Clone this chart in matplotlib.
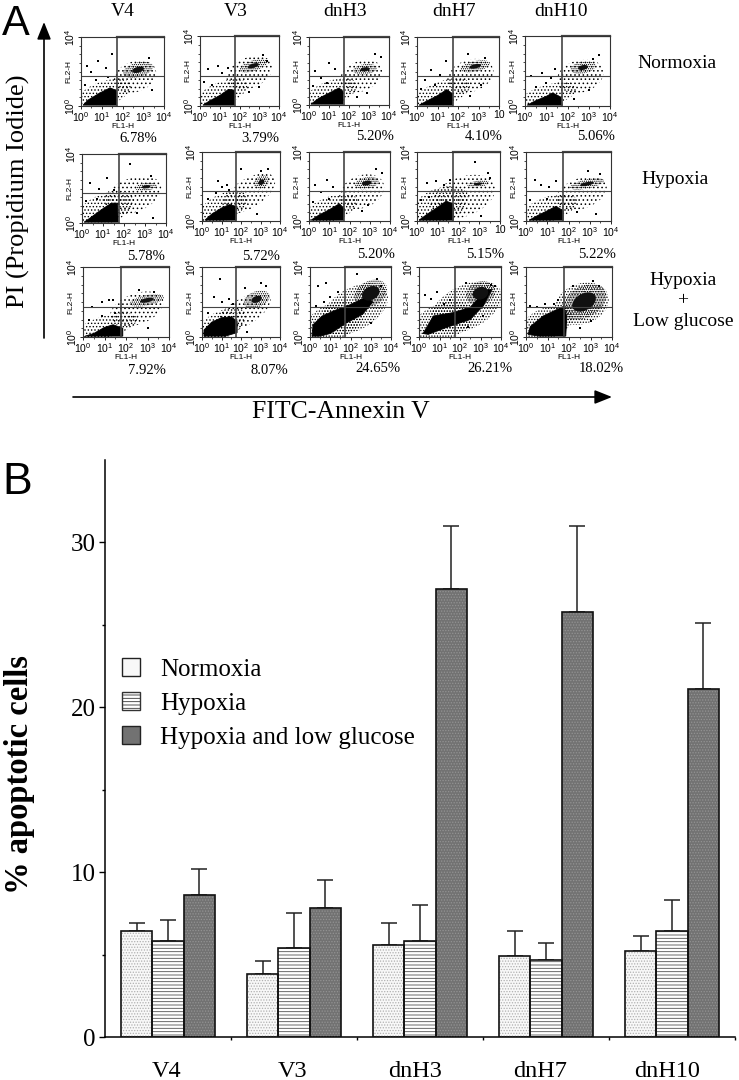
import matplotlib
matplotlib.use("Agg")
import matplotlib.pyplot as plt
import numpy as np
from matplotlib.patches import Ellipse, Patch, Polygon
from matplotlib.transforms import ScaledTranslation


WIDTH, HEIGHT = 739, 1080

# panel B
CLONES = ["V4", "V3", "dnH3", "dnH7", "dnH10"]
CONDITIONS = ["Normoxia", "Hypoxia", "Hypoxia and low glucose"]
NORMOXIA = [6.4, 3.8, 5.6, 4.9, 5.2]
HYPOXIA = [5.8, 5.4, 5.8, 4.7, 6.45]
HYPOXIA_LOW = [8.6, 7.8, 27.2, 25.8, 21.1]
NORMOXIA_TOP = [6.9, 4.6, 6.9, 6.45, 6.1]
HYPOXIA_TOP = [7.1, 7.5, 8.0, 5.7, 8.3]
HYPOXIA_LOW_TOP = [10.2, 9.5, 31.0, 31.0, 25.1]

# panel A, one row per condition, one column per clone
ROW_LABELS = ["Normoxia", "Hypoxia", "Hypoxia\n+\nLow glucose"]
PERCENTS = [
    ["6.78%", "3.79%", "5.20%", "4.10%", "5.06%"],
    ["5.78%", "5.72%", "5.20%", "5.15%", "5.22%"],
    ["7.92%", "8.07%", "24.65%", "26.21%", "18.02%"],
]
LAST_TICK = [
    ["10^4", "10^4", "10^4", "10", "10^4"],
    ["10^4", "10^4", "10^4", "10", "10^4"],
    ["10^4", "10^4", "10^4", "10^4", "10^4"],
]

# flow cytometry clouds, in decades of FL1-H / FL2-H
DENSE_LOW = [
    [
        [(0.1, 0.05), (0.35, 0.35), (0.9, 0.75), (1.4, 1.05), (1.7, 0.9), (1.72, 0.05)],
        [(0.15, 0.05), (0.5, 0.3), (1.0, 0.6), (1.45, 0.95), (1.75, 0.9), (1.75, 0.05)],
        [(0.1, 0.05), (0.5, 0.4), (1.0, 0.7), (1.5, 1.0), (1.7, 0.8), (1.7, 0.05)],
        [(0.1, 0.05), (0.5, 0.3), (1.0, 0.6), (1.45, 0.95), (1.75, 0.7), (1.75, 0.05)],
        [(0.1, 0.05), (0.5, 0.3), (1.0, 0.55), (1.3, 0.75), (1.7, 0.5), (1.75, 0.05)],
    ],
    [
        [(0.1, 0.05), (0.4, 0.3), (0.9, 0.75), (1.4, 1.15), (1.7, 1.15), (1.72, 0.05)],
        [(0.15, 0.05), (0.5, 0.4), (1.0, 0.75), (1.4, 0.95), (1.75, 0.85), (1.75, 0.05)],
        [(0.1, 0.05), (0.5, 0.35), (1.0, 0.65), (1.5, 1.0), (1.75, 0.7), (1.7, 0.05)],
        [(0.1, 0.05), (0.5, 0.4), (1.0, 0.8), (1.4, 1.15), (1.75, 1.0), (1.75, 0.05)],
        [(0.15, 0.05), (0.6, 0.35), (1.1, 0.65), (1.4, 0.85), (1.75, 0.6), (1.75, 0.05)],
    ],
    [
        [(0.1, 0.05), (0.5, 0.2), (1.0, 0.55), (1.4, 0.7), (1.85, 0.5), (1.85, 0.05)],
        [(0.1, 0.05), (0.1, 0.4), (0.5, 0.85), (1.0, 1.1), (1.5, 1.15), (1.8, 0.9), (1.8, 0.25), (1.2, 0.05)],
        [(0.1, 0.05), (0.15, 0.7), (0.6, 1.2), (1.3, 1.55), (2.0, 1.85), (2.8, 2.3), (3.1, 2.0),
         (2.6, 1.3), (1.8, 0.8), (1.0, 0.2), (0.5, 0.05)],
        [(0.2, 0.2), (0.7, 1.2), (1.7, 1.4), (2.5, 1.7), (3.3, 2.7), (3.55, 2.7), (3.15, 1.8),
         (2.5, 1.0), (1.35, 0.55), (0.45, 0.15)],
        [(0.1, 0.15), (0.2, 0.6), (0.8, 1.2), (1.75, 1.75), (1.9, 1.2), (1.85, 0.05), (0.6, 0.05)],
    ],
]
# centre x, centre y, width, height, angle
CLUSTERS = [
    [(2.75, 2.1, 1.0, 0.55, 20), (2.7, 2.3, 1.0, 0.4, 20), (2.8, 2.1, 0.8, 0.4, 10),
     (2.84, 2.3, 1.0, 0.4, 15), (2.73, 2.2, 0.8, 0.45, 15)],
    [(3.05, 2.1, 0.7, 0.3, 10), (3.05, 2.25, 0.6, 0.45, 50), (2.85, 2.2, 0.8, 0.45, 15),
     (2.95, 2.15, 0.7, 0.25, 10), (2.87, 2.15, 1.1, 0.35, 15)],
    [(2.97, 2.1, 1.1, 0.4, 15), (2.8, 2.15, 0.95, 0.6, 25), (3.0, 2.5, 1.2, 0.9, 40),
     (3.0, 2.5, 1.0, 0.85, 40), (2.7, 2.0, 1.6, 1.1, 45)],
]
UPPER_HALO = [
    [(2.6, 1.7, 2.2, 1.7, 35), (2.5, 1.9, 2.5, 1.7, 30), (2.6, 1.7, 2.3, 1.7, 35),
     (2.6, 1.75, 2.4, 1.8, 30), (2.6, 1.7, 2.3, 1.8, 30)],
    [(2.4, 1.6, 3.0, 1.9, 30), (2.4, 1.6, 3.2, 1.6, 38), (2.6, 1.7, 2.4, 1.8, 35),
     (2.2, 1.4, 3.4, 2.2, 30), (2.6, 1.6, 2.6, 1.7, 30)],
    [(2.5, 1.6, 2.7, 1.7, 30), (2.1, 1.4, 3.3, 1.5, 35), (2.2, 1.6, 3.8, 2.3, 38),
     (2.3, 1.7, 3.9, 2.4, 35), (2.6, 1.9, 2.7, 2.2, 40)],
]
LOW_HALO = [
    [(1.1, 0.7, 2.8, 1.4, 25), (1.1, 0.7, 2.8, 1.3, 25), (1.1, 0.7, 2.8, 1.4, 25),
     (1.2, 0.7, 3.0, 1.4, 25), (1.1, 0.6, 2.8, 1.2, 20)],
    [(1.1, 0.8, 3.0, 1.7, 30), (1.1, 0.8, 2.8, 1.5, 30), (1.1, 0.7, 2.8, 1.4, 25),
     (1.1, 0.9, 3.0, 1.9, 30), (1.1, 0.7, 2.8, 1.4, 25)],
    [(1.1, 0.6, 3.0, 1.2, 20), (1.0, 0.7, 2.8, 1.5, 30), (1.2, 0.9, 3.2, 2.0, 30),
     (1.2, 0.9, 3.2, 2.0, 25), (1.0, 0.8, 2.6, 1.7, 30)],
]
STRAY = [
    [
        [(0.3, 2.3), (0.5, 2.0), (0.8, 2.6), (1.2, 2.2), (0.2, 1.2), (0.7, 1.5), (1.3, 1.7), (3.4, 0.9), (3.3, 2.8), (1.5, 3.0)],
        [(0.4, 2.1), (0.9, 2.3), (1.1, 1.9), (0.2, 1.4), (0.6, 1.2), (1.4, 2.2), (3.2, 2.9), (3.4, 2.6), (2.5, 0.8), (3.0, 1.1)],
        [(0.3, 2.0), (0.6, 1.6), (1.0, 2.5), (1.3, 2.1), (0.2, 1.1), (0.9, 1.3), (3.6, 2.8), (3.3, 3.0), (2.9, 0.7), (2.4, 0.5)],
        [(0.4, 1.5), (0.7, 2.1), (1.1, 1.8), (1.4, 2.6), (0.2, 1.0), (0.9, 1.2), (2.5, 3.0), (3.3, 2.8), (3.1, 1.2), (2.6, 0.6)],
        [(0.3, 1.7), (0.8, 1.9), (1.2, 1.6), (1.4, 2.1), (0.5, 1.1), (1.0, 1.3), (3.5, 2.9), (3.2, 2.7), (3.0, 0.9), (2.3, 0.4)],
    ],
    [
        [(0.4, 2.3), (0.8, 2.0), (1.2, 2.6), (0.2, 1.3), (1.5, 1.9), (2.3, 3.4), (3.3, 2.7), (3.4, 0.3), (2.6, 0.6), (0.7, 1.4)],
        [(0.8, 2.3), (1.0, 2.0), (1.3, 2.1), (0.3, 1.3), (0.7, 1.6), (2.0, 3.0), (3.4, 3.0), (2.8, 0.4), (3.0, 2.9), (1.4, 1.8)],
        [(0.3, 2.1), (0.6, 1.7), (0.9, 2.4), (1.2, 2.0), (0.2, 1.1), (3.6, 2.8), (3.3, 3.0), (2.6, 0.6), (2.9, 0.9), (1.0, 1.3)],
        [(0.5, 2.2), (0.9, 2.3), (1.3, 2.1), (0.2, 1.2), (2.8, 3.4), (3.4, 2.8), (3.1, 0.3), (3.5, 2.5), (1.6, 2.4), (0.6, 1.4)],
        [(0.4, 2.4), (0.7, 2.1), (1.1, 2.0), (1.4, 2.3), (0.2, 1.2), (2.9, 2.9), (3.3, 0.4), (3.5, 2.7), (2.4, 0.5), (1.0, 1.3)],
    ],
    [
        [(0.4, 1.7), (0.9, 2.0), (1.2, 2.1), (1.5, 1.4), (0.3, 1.0), (0.9, 1.2), (3.0, 0.5), (3.3, 2.6), (2.6, 2.7), (1.4, 2.1)],
        [(0.9, 3.3), (0.6, 2.3), (1.0, 2.0), (1.4, 2.2), (0.3, 1.4), (3.0, 3.1), (2.3, 0.3), (3.3, 2.9), (2.2, 2.8), (1.6, 1.9)],
        [(0.4, 2.9), (0.8, 3.1), (1.0, 2.3), (1.4, 2.6), (0.3, 1.8), (0.7, 2.0), (3.3, 3.3), (3.5, 2.9), (2.3, 3.6), (3.0, 0.8)],
        [(0.3, 2.4), (0.6, 2.2), (0.9, 2.6), (1.2, 1.9), (1.5, 2.1), (2.3, 3.1), (3.5, 3.0), (3.7, 2.9), (2.4, 0.6), (3.1, 1.2)],
        [(0.2, 1.8), (0.5, 1.7), (0.9, 1.9), (1.3, 1.9), (1.5, 2.1), (3.1, 3.2), (3.4, 2.9), (3.0, 0.9), (2.5, 0.5), (2.2, 2.9)],
    ],
]

# layout, in pixels of the picture
PANEL_BOXES = [
    [(81, 164, 37, 106), (200, 279, 36, 106), (309, 389, 37, 105), (417, 499, 37, 106), (525, 610, 36, 106)],
    [(82, 166, 154, 223), (202, 280, 152, 221), (309, 390, 152, 221), (417, 500, 152, 221), (526, 611, 152, 221)],
    [(83, 169, 267, 337), (202, 280, 267, 337), (310, 391, 267, 337), (419, 501, 267, 337), (526, 612, 267, 337)],
]
PERCENT_POS = [
    [(138, 139), (260, 139), (375, 137), (484, 137), (596, 137)],
    [(146, 256), (261, 256), (376, 255), (485, 254), (597, 254)],
    [(147, 371), (269, 371), (378, 369), (490, 369), (601, 369)],
]
HEADER_X = [123, 236, 345, 454, 561]
CLONE_LABEL_X = [167, 293, 415, 540, 667]
GATE_X, GATE_Y = 1.75, 1.72

SERIF = ["Liberation Serif", "DejaVu Serif"]
SANS = ["Liberation Sans", "DejaVu Sans"]


def px_axes(fig, left, right, top, bottom):
    return fig.add_axes([left / WIDTH, 1 - bottom / HEIGHT,
                         (right - left) / WIDTH, (bottom - top) / HEIGHT])


def decade_label(text):
    if "^" not in text:
        return text
    base, power = text.split("^")
    return rf"$\mathregular{{{base}^{{{power}}}}}$"


def add_ellipse(ax, spec, scale=1.0, **kwargs):
    cx, cy, w, h, angle = spec
    ax.add_patch(Ellipse((cx, cy), w * scale, h * scale, angle=angle, **kwargs))


def draw_flow_panel(fig, box, row, col):
    ax = px_axes(fig, *box)
    ax.set_xlim(0, 4)
    ax.set_ylim(0, 4)
    ax.patch.set_alpha(0)

    heavy = row == 2 and col >= 2
    add_ellipse(ax, LOW_HALO[row][col], fill=False, hatch="......" if heavy else ".....",
                edgecolor="black", linewidth=0)
    add_ellipse(ax, UPPER_HALO[row][col], fill=False, hatch="......" if heavy else "....",
                edgecolor="black", linewidth=0)
    ax.add_patch(Polygon(DENSE_LOW[row][col], closed=True, facecolor="black", edgecolor="black", linewidth=0.6))
    add_ellipse(ax, CLUSTERS[row][col], scale=1.5, fill=False, hatch="........", edgecolor="black", linewidth=0)
    add_ellipse(ax, CLUSTERS[row][col], scale=0.8 if heavy else 0.6, facecolor="#111111", linewidth=0)
    stray_x, stray_y = zip(*STRAY[row][col])
    ax.scatter(stray_x, stray_y, s=0.6, marker="s", color="black", linewidths=0)

    # quadrant gate
    ax.plot([0, 4], [GATE_Y, GATE_Y], color="#444444", lw=0.8)
    ax.plot([GATE_X, GATE_X], [0, 4], color="#444444", lw=1.2)
    ax.plot([GATE_X, 4], [4, 4], color="#444444", lw=1.6, clip_on=False)

    for spine in ax.spines.values():
        spine.set_color("#333333")
        spine.set_linewidth(0.8)

    x_labels = ["10^0", "10^1", "10^2", "10^3", LAST_TICK[row][col]]
    ax.set_xticks(np.arange(5))
    ax.set_xticklabels([decade_label(t) for t in x_labels], fontsize=7.5, family=SANS)
    ax.set_yticks([0, 4])
    ax.set_yticklabels([decade_label("10^0"), decade_label("10^4")], fontsize=7.5, rotation=90,
                       va="center", family=SANS)
    ax.set_xticks(np.arange(0.5, 4, 0.5), minor=True)
    ax.set_yticks(np.arange(0.5, 4, 0.5), minor=True)
    ax.tick_params(length=2.2, width=0.6, pad=0.8)
    ax.tick_params(which="minor", length=1.2, width=0.5)
    ax.set_xlabel("FL1-H", fontsize=6, family=SANS, labelpad=-1)
    ax.set_ylabel("FL2-H", fontsize=6, family=SANS, labelpad=-7)


def draw_bar_panel(fig):
    ax = px_axes(fig, 105, 735, 460, 1037)
    ax.set_xlim(0, 5)
    ax.set_ylim(0, 35)
    ax.patch.set_alpha(0)

    centers = np.arange(len(CLONES)) + 0.5
    width = 0.248
    series = [
        (NORMOXIA, NORMOXIA_TOP, "#f8f8f8", "......", "#b0b0b0", -width),
        (HYPOXIA, HYPOXIA_TOP, "#ffffff", "-----", "#505050", 0),
        (HYPOXIA_LOW, HYPOXIA_LOW_TOP, "#727272", "......", "#939393", width),
    ]
    for values, tops, face, hatch, hatch_color, offset in series:
        x = centers + offset
        ax.errorbar(x, values, yerr=[np.zeros(len(values)), np.array(tops) - np.array(values)],
                    fmt="none", ecolor="#222222", elinewidth=1.1, capsize=6, capthick=1.1, zorder=1)
        ax.bar(x, values, width, color=face, linewidth=0, zorder=2)
        ax.bar(x, values, width, fill=False, hatch=hatch, edgecolor=hatch_color, linewidth=0, zorder=3)
        ax.bar(x, values, width, fill=False, edgecolor="#111111", linewidth=1.2, zorder=4)

    for side in ["top", "right"]:
        ax.spines[side].set_visible(False)
    ax.spines["left"].set_linewidth(1.1)
    ax.spines["bottom"].set_linewidth(1.1)

    ax.set_yticks([0, 10, 20, 30])
    ax.set_yticklabels(["0", "10", "20", "30"], fontsize=18, family=SERIF)
    # the numbers sit a little under their ticks in the original
    shift = ScaledTranslation(0, -6 / 100, fig.dpi_scale_trans)
    for label in ax.get_yticklabels():
        label.set_transform(label.get_transform() + shift)
    ax.set_yticks([5, 15, 25], minor=True)
    ax.tick_params(axis="y", length=4.5, width=1, pad=2)
    ax.tick_params(axis="y", which="minor", length=2, width=1)
    ax.set_xticks(np.arange(1, 6))
    ax.set_xticklabels([])
    ax.set_xticks([(x - 105) / 126 for x in CLONE_LABEL_X], minor=True)
    ax.set_xticklabels(CLONES, minor=True, fontsize=17.5, family=SERIF)
    ax.tick_params(axis="x", length=2.5, width=1)
    ax.tick_params(axis="x", which="minor", length=0, pad=17)

    handles = [
        Patch(facecolor="#f8f8f8", edgecolor="#222222", linewidth=1),
        Patch(facecolor="#ffffff", edgecolor="#333333", hatch="-----", linewidth=1),
        Patch(facecolor="#727272", edgecolor="#222222", linewidth=1),
    ]
    ax.legend(handles, CONDITIONS, loc="upper left", bbox_to_anchor=(17 / 630, (1037 - 658) / 577),
              frameon=False, borderpad=0, borderaxespad=0, handlelength=0.72, handleheight=0.72,
              handletextpad=0.8, labelspacing=0.46, prop={"family": SERIF, "size": 18})


def draw_annotations(fig):
    ax = fig.add_axes([0, 0, 1, 1])
    ax.set_xlim(0, WIDTH)
    ax.set_ylim(HEIGHT, 0)
    ax.axis("off")

    ax.text(2, 35, "A", fontsize=30, family=SANS, va="baseline")
    ax.text(2, 494, "B", fontsize=32, family=SANS, va="baseline")

    for x, name in zip(HEADER_X, CLONES):
        ax.text(x, 11, name, fontsize=14, family=SERIF, ha="center", va="center")
    for row in range(3):
        for col in range(5):
            x, y = PERCENT_POS[row][col]
            ax.text(x, y, PERCENTS[row][col], fontsize=10.5, family=SERIF, ha="center", va="center")

    ax.text(677, 63, ROW_LABELS[0], fontsize=14, family=SERIF, ha="center", va="center")
    ax.text(675, 180, ROW_LABELS[1], fontsize=14, family=SERIF, ha="center", va="center")
    ax.text(683, 301, ROW_LABELS[2], fontsize=14, family=SERIF, ha="center", va="center", linespacing=1.25)

    ax.text(18, 191, "PI (Propidium Iodide)", fontsize=19, family=SERIF, rotation=90, ha="center", va="center")
    ax.text(341, 412, "FITC-Annexin V", fontsize=18.5, family=SERIF, ha="center", va="center")
    ax.text(20, 775, "% apoptotic cells", fontsize=23.5, family=SERIF, fontweight="bold",
            rotation=90, ha="center", va="center")

    arrow = dict(arrowstyle="-|>,head_length=0.75,head_width=0.3", color="black", lw=1.2,
                 shrinkA=0, shrinkB=0, mutation_scale=14)
    ax.annotate("", xy=(44, 22), xytext=(44, 338), arrowprops=arrow)
    ax.annotate("", xy=(612, 397), xytext=(73, 397), arrowprops=arrow)


if __name__ == "__main__":
    plt.rcParams["hatch.linewidth"] = 0.6
    fig = plt.figure(figsize=(WIDTH / 100, HEIGHT / 100), dpi=100, facecolor="white")

    draw_annotations(fig)
    for row in range(3):
        for col in range(5):
            draw_flow_panel(fig, PANEL_BOXES[row][col], row, col)
    draw_bar_panel(fig)

    fig.savefig("out.png", dpi=100)
    plt.close(fig)
